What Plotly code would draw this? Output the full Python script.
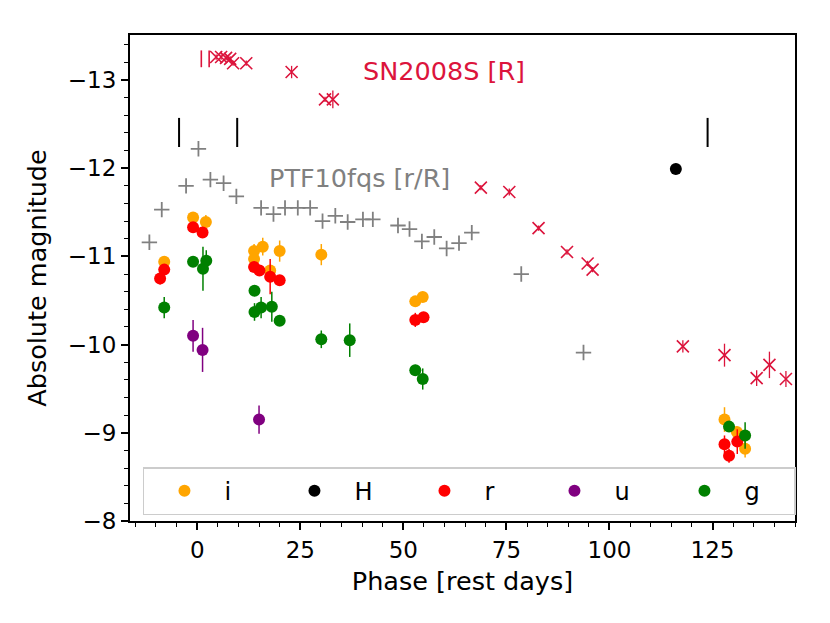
import plotly.graph_objects as go

# ---------------- data ----------------
# SN2008S [R] comparison light curve
sn_phase = [1.0, 2.9, 4.6, 5.8, 7.0, 8.0, 8.7, 11.9, 22.9, 31.0, 32.9, 68.8, 75.7,
            82.8, 89.7, 94.7, 95.9, 117.8, 127.9, 135.7, 138.8, 142.8]
sn_mag = [-13.24, -13.24, -13.26, -13.26, -13.25, -13.24, -13.19, -13.19, -13.09,
          -12.78, -12.78, -11.78, -11.73, -11.32, -11.05, -10.92, -10.85, -9.98,
          -9.88, -9.62, -9.77, -9.61]
sn_err = [0.0, 0.0, 0.03, 0.03, 0.03, 0.03, 0.03, 0.03, 0.07, 0.03, 0.1, 0.03, 0.04,
          0.03, 0.03, 0.03, 0.03, 0.07, 0.13, 0.09, 0.15, 0.09]
sn_symbol = ["line-ns", "line-ns"] + ["x-thin"] * 20

# PTF10fqs [r/R] comparison light curve
ptf_phase = [-11.6, -8.6, -2.7, 0.3, 3.2, 6.4, 9.5, 15.5, 18.5, 21.3, 24.4, 27.4,
             30.4, 33.5, 36.5, 40.2, 42.6, 48.7, 51.5, 54.5, 57.5, 60.5, 63.5, 66.6,
             78.6, 93.7]
ptf_mag = [-11.16, -11.53, -11.80, -12.22, -11.87, -11.83, -11.68, -11.55, -11.48,
           -11.55, -11.55, -11.55, -11.40, -11.46, -11.39, -11.42, -11.42, -11.35,
           -11.31, -11.17, -11.22, -11.09, -11.15, -11.27, -10.80, -9.91]

# spectral epochs (vertical marks)
spec_phase = [-4.4, 9.7, 123.8]
spec_top = -12.57
spec_bottom = -12.24

# filters
i_phase = [-8.0, -1.0, 2.1, 13.8, 13.8, 15.9, 17.7, 20.0, 30.1, 52.9, 54.7, 127.9, 130.9, 132.9]
i_mag = [-10.94, -11.44, -11.39, -11.06, -10.97, -11.11, -10.84, -11.06, -11.02,
         -10.49, -10.54, -9.15, -9.01, -8.82]
i_err = [0.05, 0.05, 0.08, 0.08, 0.05, 0.1, 0.05, 0.12, 0.12, 0.04, 0.04, 0.14, 0.06, 0.1]

H_phase = [116.1]
H_mag = [-11.99]
H_err = [0.06]

r_phase = [-9.0, -8.0, -1.0, 1.3, 13.8, 15.1, 17.7, 20.0, 52.9, 54.9, 127.9, 129.0, 131.0]
r_mag = [-10.75, -10.85, -11.33, -11.27, -10.88, -10.84, -10.77, -10.73, -10.28,
         -10.31, -8.87, -8.74, -8.90]
r_err = [0.07, 0.05, 0.04, 0.04, 0.04, 0.04, 0.2, 0.05, 0.08, 0.04, 0.1, 0.08, 0.14]

u_phase = [-1.0, 1.3, 15.0]
u_mag = [-10.10, -9.94, -9.15]
u_err = [0.18, 0.25, 0.16]

g_phase = [-8.0, -1.0, 1.4, 2.2, 13.9, 13.9, 15.5, 18.1, 20.0, 30.1, 37.0, 52.9,
           54.7, 129.0, 132.9]
g_mag = [-10.42, -10.94, -10.86, -10.95, -10.61, -10.37, -10.42, -10.43, -10.27,
         -10.06, -10.05, -9.71, -9.61, -9.07, -8.97]
g_err = [0.12, 0.06, 0.25, 0.12, 0.06, 0.1, 0.12, 0.17, 0.05, 0.1, 0.19, 0.06,
         0.12, 0.05, 0.15]

filters = [
    ("i", i_phase, i_mag, i_err, "#FFA500"),
    ("H", H_phase, H_mag, H_err, "#000000"),
    ("r", r_phase, r_mag, r_err, "#FF0000"),
    ("u", u_phase, u_mag, u_err, "#800080"),
    ("g", g_phase, g_mag, g_err, "#008000"),
]

FONT = "DejaVu Sans"
fig = go.Figure()

# SN2008S
fig.add_trace(go.Scatter(
    x=sn_phase, y=sn_mag, mode="markers", showlegend=False,
    marker=dict(symbol=sn_symbol, size=12, color="#DC143C",
                line=dict(color="#DC143C", width=1.6)),
    error_y=dict(type="data", array=sn_err, color="#DC143C", thickness=1.3, width=0),
))

# PTF10fqs
fig.add_trace(go.Scatter(
    x=ptf_phase, y=ptf_mag, mode="markers", showlegend=False,
    marker=dict(symbol="cross-thin", size=11, color="#808080",
                line=dict(color="#808080", width=1.8)),
))

# spectral epochs
sx, sy = [], []
for p in spec_phase:
    sx += [p, p, None]
    sy += [spec_top, spec_bottom, None]
fig.add_trace(go.Scatter(x=sx, y=sy, mode="lines", showlegend=False,
                         line=dict(color="black", width=2)))

for name, xs, ys, es, col in filters:
    fig.add_trace(go.Scatter(
        x=xs, y=ys, mode="markers", name=name,
        marker=dict(symbol="circle", size=12, color=col),
        error_y=dict(type="data", array=es, color=col, thickness=1.5, width=0),
    ))

fig.add_annotation(x=59.9, y=-13.10, text="SN2008S [R]", showarrow=False,
                   font=dict(family=FONT, size=25.5, color="#DC143C"))
fig.add_annotation(x=39.3, y=-11.89, text="PTF10fqs [r/R]", showarrow=False,
                   font=dict(family=FONT, size=25.5, color="#808080"))

axis_common = dict(
    showline=True, linecolor="black", linewidth=2, mirror=True,
    ticks="outside", ticklen=7, tickwidth=1.5, tickcolor="black",
    showgrid=False, zeroline=False,
    tickfont=dict(family=FONT, size=23, color="black"),
)

fig.update_xaxes(
    range=[-16.3, 145.0], tick0=0, dtick=25,
    minor=dict(ticks="outside", ticklen=4, tickwidth=1.2, tickcolor="black", dtick=5, tick0=0),
    title=dict(text="Phase [rest days]", font=dict(family=FONT, size=25.5, color="black"),
               standoff=11),
    **axis_common,
)
fig.update_yaxes(
    range=[-8, -13.51], tick0=-13, dtick=1,
    minor=dict(ticks="outside", ticklen=4, tickwidth=1.2, tickcolor="black", dtick=0.2, tick0=-13),
    title=dict(text="Absolute magnitude", font=dict(family=FONT, size=25.5, color="black"),
               standoff=14),
    **axis_common,
)

fig.update_layout(
    width=830, height=623,
    margin=dict(l=122, r=43, t=27, b=110),
    paper_bgcolor="white", plot_bgcolor="white",
    font=dict(family=FONT),
    legend=dict(
        orientation="h", x=0.0195, y=0.012, xanchor="left", yanchor="bottom",
        bordercolor="#cccccc", borderwidth=1.5, bgcolor="rgba(255,255,255,0.8)",
        font=dict(family=FONT, size=24, color="black"),
        itemwidth=70, entrywidth=45, entrywidthmode="pixels",
    ),
)

fig.write_html("out.html")
